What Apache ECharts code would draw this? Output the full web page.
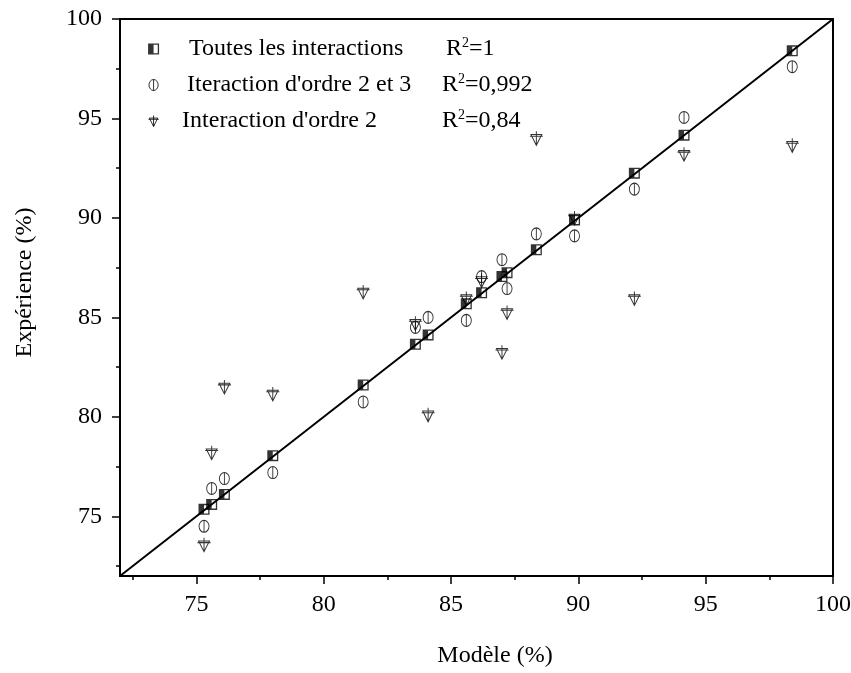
<!DOCTYPE html>
<html>
<head>
<meta charset="utf-8">
<script src="https://cdn.jsdelivr.net/npm/echarts@6.0.0/dist/echarts.min.js"></script>
<style>
  html, body { margin: 0; padding: 0; background: #fff; }
  #chart { width: 851px; height: 673px; }
</style>
</head>
<body>
<div id="chart"></div>
<script>
// valeurs
const modele = [75.3, 75.6, 76.1, 78.0, 81.55, 83.6, 84.1, 85.6, 86.2, 87.0, 87.2, 88.35, 89.85, 92.2, 94.15, 98.4];
const expToutes = [75.35, 75.6, 76.1, 78.05, 81.6, 83.65, 84.12, 85.68, 86.24, 87.05, 87.25, 88.4, 89.9, 92.25, 94.16, 98.4];
const expOrdre23 = [74.5, 76.4, 76.9, 77.2, 80.75, 84.5, 85.0, 84.85, 87.05, 87.9, 86.45, 89.2, 89.1, 91.45, 95.05, 97.6];
const expOrdre2 = [73.57, 78.2, 81.5, 81.15, 86.28, 84.7, 80.1, 85.95, 86.85, 83.25, 85.25, 94.0, 90.0, 85.95, 93.2, 93.65];

const seriesNames = ['Toutes les interactions', "Iteraction d'ordre 2 et 3", "Interaction d'ordre 2"];
const r2Labels = ['1', '0,992', '0,84'];
const majorTicks = [75, 80, 85, 90, 95, 100];
const minorTicks = [72.5, 77.5, 82.5, 87.5, 92.5, 97.5];
const axisMin = 72;
const axisMax = 100;

const FONT = '"Liberation Serif", "Times New Roman", serif';

// symboles
const symSquare = 'path://M0,0L5,0L5,10L0,10Z M5,0L10,0L10,1.2L5,1.2Z M8.8,0L10,0L10,10L8.8,10Z M5,8.8L10,8.8L10,10L5,10Z';
const symCircle = 'path://M5,0A5,6,0,1,1,5,12A5,6,0,1,1,5,0Z M5,0L5,12';
const symTriangle = 'path://M1,3L11,3L6,13Z M0,4.5L12,4.5 M6,0L6,13';

const pairs = (ys) => modele.map((x, i) => [x, ys[i]]);

const chart = echarts.init(document.getElementById('chart'));

const mainAxis = (pos, labelMargin, name, nameGap, namePad) => ({
  type: 'value',
  position: pos,
  min: axisMin,
  max: axisMax,
  name: name,
  nameLocation: 'middle',
  nameGap: nameGap,
  nameTextStyle: { fontFamily: FONT, fontSize: 24, color: '#000', padding: namePad },
  axisLine: { show: true, lineStyle: { color: '#000', width: 2 } },
  axisTick: { show: true, inside: false, length: 8, lineStyle: { color: '#000', width: 1.5 }, customValues: majorTicks },
  axisLabel: { show: true, margin: labelMargin, fontFamily: FONT, fontSize: 24, color: '#000', customValues: majorTicks },
  splitLine: { show: false }
});

const minorAxis = (pos) => ({
  type: 'value',
  position: pos,
  min: axisMin,
  max: axisMax,
  axisLine: { show: false },
  axisTick: { show: true, inside: false, length: 4, lineStyle: { color: '#000', width: 1.5 }, customValues: minorTicks },
  axisLabel: { show: false },
  splitLine: { show: false }
});

const rich = {
  g0: { width: 25, fontSize: 24, fontFamily: FONT, lineHeight: 26 },
  g1: { width: 23, fontSize: 24, fontFamily: FONT, lineHeight: 26 },
  g2: { width: 18, fontSize: 24, fontFamily: FONT, lineHeight: 26 },
  n0: { width: 257, fontSize: 24, fontFamily: FONT, color: '#000', lineHeight: 26 },
  n1: { width: 255, fontSize: 24, fontFamily: FONT, color: '#000', lineHeight: 26 },
  n2: { width: 260, fontSize: 24, fontFamily: FONT, color: '#000', lineHeight: 26 },
  r: { fontSize: 24, fontFamily: FONT, color: '#000', lineHeight: 26 },
  s: { fontSize: 14, fontFamily: FONT, color: '#000', lineHeight: 9, verticalAlign: 'top' }
};

const option = {
  backgroundColor: '#fff',
  animation: false,
  grid: {
    left: 120, right: 18, top: 19, bottom: 97,
    outerBoundsMode: 'none',
    show: true, borderColor: '#000', borderWidth: 2, backgroundColor: 'transparent'
  },
  legend: {
    orient: 'vertical',
    left: 143,
    top: 31,
    itemWidth: 11,
    itemHeight: 11,
    itemGap: 11,
    data: [
      { name: seriesNames[0], icon: symSquare, itemStyle: { color: '#000', borderWidth: 0 } },
      { name: seriesNames[1], icon: symCircle, itemStyle: { color: 'rgba(0,0,0,0)', borderColor: '#000', borderWidth: 1 } },
      { name: seriesNames[2], icon: symTriangle, itemStyle: { color: 'rgba(0,0,0,0)', borderColor: '#000', borderWidth: 1 } }
    ],
    formatter: (name) => {
      const i = seriesNames.indexOf(name);
      return `{g${i}| }{n${i}|${name}}{r|R}{s|2}{r|=${r2Labels[i]}}`;
    },
    textStyle: { rich: rich }
  },
  xAxis: [
    mainAxis('bottom', 17, 'Modèle (%)', 68, [0, 0, 0, 37]),
    minorAxis('bottom')
  ],
  yAxis: [
    mainAxis('left', 18, 'Expérience (%)', 83, [0, 0, 0, 30]),
    minorAxis('left')
  ],
  series: [
    {
      name: 'diagonale',
      type: 'line',
      data: [[axisMin, axisMin], [axisMax, axisMax]],
      symbol: 'none',
      lineStyle: { color: '#000', width: 2 },
      silent: true,
      z: 1
    },
    {
      name: seriesNames[0],
      type: 'scatter',
      data: pairs(expToutes),
      symbol: symSquare,
      symbolSize: 11,
      itemStyle: { color: '#000', borderWidth: 0 },
      z: 3
    },
    {
      name: seriesNames[1],
      type: 'scatter',
      data: pairs(expOrdre23),
      symbol: symCircle,
      symbolSize: [10, 12],
      itemStyle: { color: 'rgba(0,0,0,0)', borderColor: '#000', borderWidth: 1 },
      z: 3
    },
    {
      name: seriesNames[2],
      type: 'scatter',
      data: pairs(expOrdre2),
      symbol: symTriangle,
      symbolSize: [13, 14],
      itemStyle: { color: 'rgba(0,0,0,0)', borderColor: '#000', borderWidth: 1 },
      z: 3
    }
  ]
};

chart.setOption(option);
</script>
</body>
</html>
